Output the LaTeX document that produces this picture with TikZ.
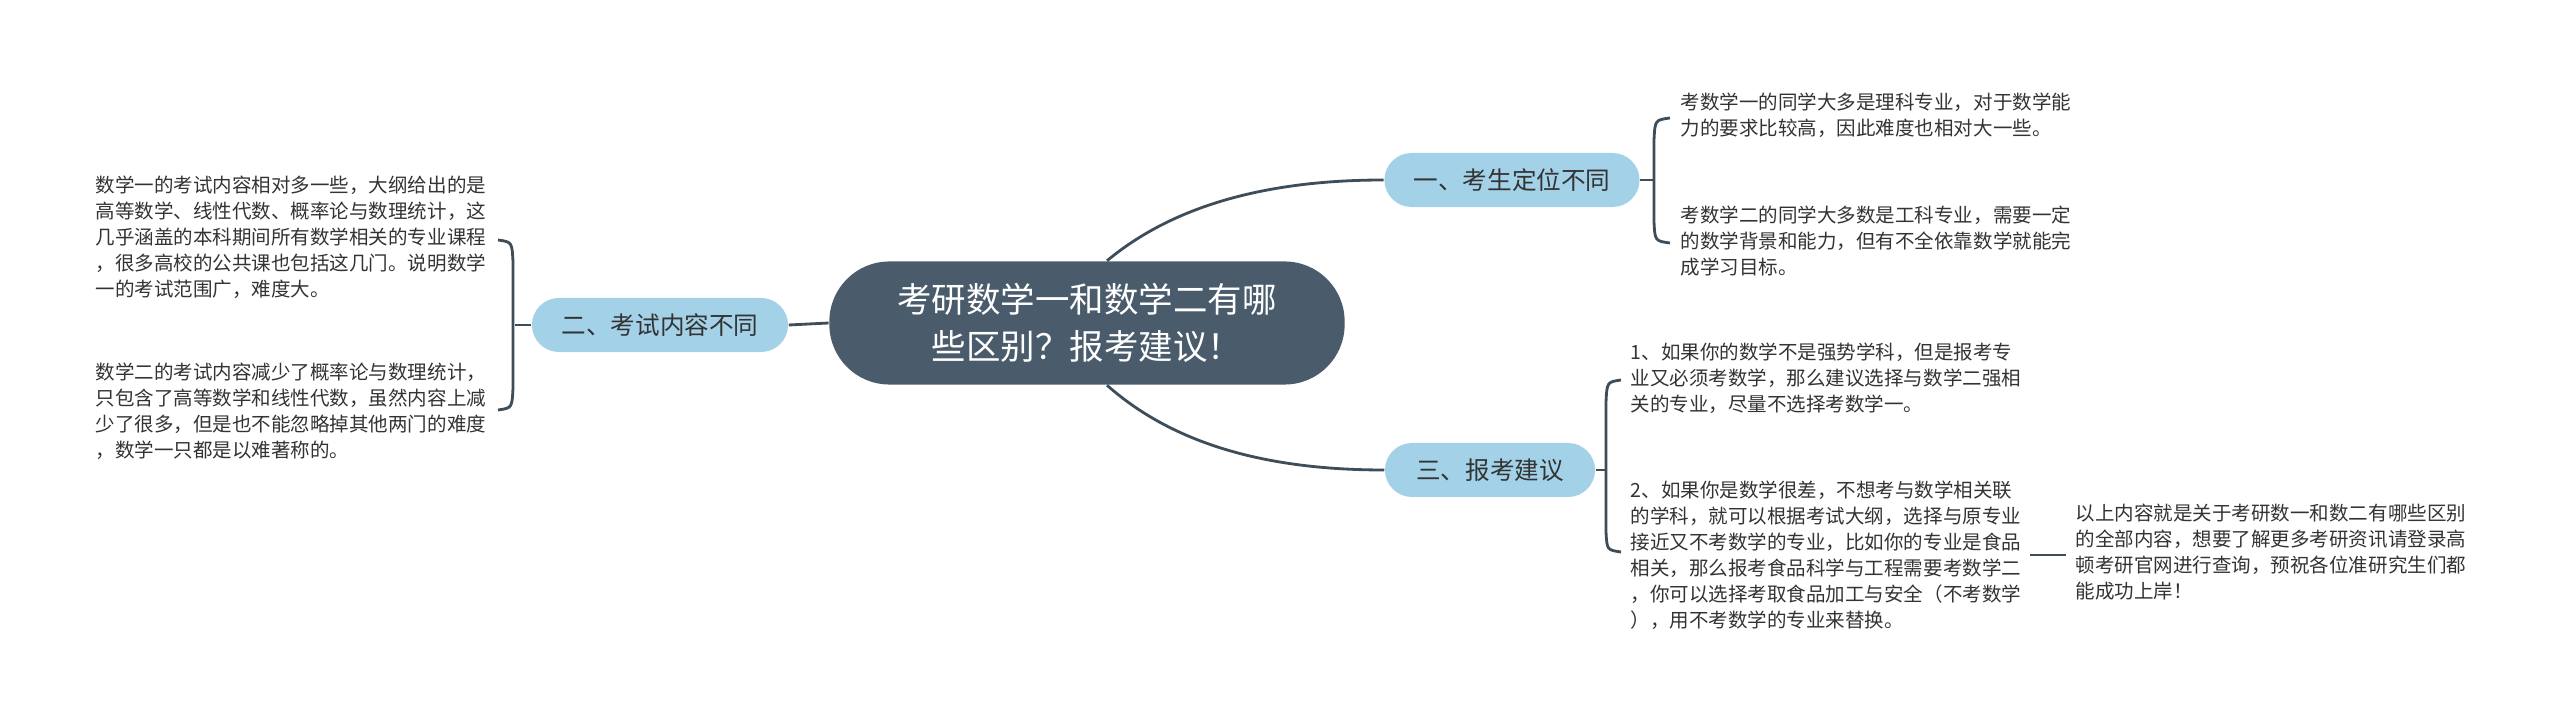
\documentclass[tikz,border=0pt]{standalone}
\usepackage{fontspec}
\setmainfont{Noto Sans CJK SC}
\definecolor{rootfill}{HTML}{4A5C6B}
\definecolor{topicfill}{HTML}{A3D2E8}
\definecolor{linecol}{HTML}{3E4D5A}
\definecolor{txtcol}{HTML}{333333}
\tikzset{
	root/.style={shape=rectangle,rounded corners=0.6cm,fill=rootfill,text=white,minimum width=5.15cm,minimum height=1.23cm,align=center,font=\fontsize{9.8pt}{13.5pt}\selectfont},
	topic/.style={shape=rectangle,rounded corners=0.27cm,fill=topicfill,text=txtcol,minimum height=0.54cm,inner xsep=0.2cm,font=\fontsize{7pt}{8pt}\selectfont},
	leaf/.style={anchor=north west,inner sep=0pt,align=left,text=txtcol,font=\fontsize{5.55pt}{7.4pt}\selectfont},
	link/.style={draw=linecol,line width=0.8pt}
}
\begin{document}
\begin{tikzpicture}[x=0.01cm,y=-0.01cm]
	\useasboundingbox (0,0) rectangle (2560,722);

	\node[root] (r) at (1087, 323) {考研数学一和数学二有哪\\些区别？报考建议！};
	\node[topic,minimum width=2.56cm] (t2) at (660, 325) {二、考试内容不同};
	\node[topic,minimum width=2.55cm] (t1) at (1512, 180) {一、考生定位不同};
	\node[topic,minimum width=2.1cm] (t3) at (1490, 470) {三、报考建议};

	\node[leaf] (a1) at (95, 175) {数学一的考试内容相对多一些，大纲给出的是\\高等数学、线性代数、概率论与数理统计，这\\几乎涵盖的本科期间所有数学相关的专业课程\\，很多高校的公共课也包括这几门。说明数学\\一的考试范围广，难度大。};
	\node[leaf] (a2) at (95, 362) {数学二的考试内容减少了概率论与数理统计，\\只包含了高等数学和线性代数，虽然内容上减\\少了很多，但是也不能忽略掉其他两门的难度\\，数学一只都是以难著称的。};
	\node[leaf] (b1) at (1680, 92) {考数学一的同学大多是理科专业，对于数学能\\力的要求比较高，因此难度也相对大一些。};
	\node[leaf] (b2) at (1680, 205) {考数学二的同学大多数是工科专业，需要一定\\的数学背景和能力，但有不全依靠数学就能完\\成学习目标。};
	\node[leaf] (c1) at (1630, 342) {1、如果你的数学不是强势学科，但是报考专\\业又必须考数学，那么建议选择与数学二强相\\关的专业，尽量不选择考数学一。};
	\node[leaf] (c2) at (1630, 480) {2、如果你是数学很差，不想考与数学相关联\\的学科，就可以根据考试大纲，选择与原专业\\接近又不考数学的专业，比如你的专业是食品\\相关，那么报考食品科学与工程需要考数学二\\，你可以选择考取食品加工与安全（不考数学\\），用不考数学的专业来替换。};
	\node[leaf] (d1) at (2075, 503) {以上内容就是关于考研数一和数二有哪些区别\\的全部内容，想要了解更多考研资讯请登录高\\顿考研官网进行查询，预祝各位准研究生们都\\能成功上岸！};

	% root to topics
	\draw[link] (t2.east) -- (r.west);
	\draw[link] (r.north) ++(20,0) .. controls (1180, 200) and (1280, 180) .. (t1.west);
	\draw[link] (r.south) ++(20,0) .. controls (1180, 450) and (1280, 470) .. (t3.west);

	% brackets
	\coordinate (k2) at (515, 325);
	\draw[link] (t2.west) -- (k2);
	\draw[link] (498, 240) .. controls (512, 242) .. (513, 262) -- (513, 388) .. controls (512, 408) .. (498, 410);
	\coordinate (k1) at (1653, 180);
	\draw[link] (t1.east) -- (k1);
	\draw[link] (1670, 118) .. controls (1655, 120) .. (1654, 140) -- (1654, 222) .. controls (1655, 241) .. (1670, 243);
	\coordinate (k3) at (1606, 470);
	\draw[link] (t3.east) -- (k3);
	\draw[link] (1621, 380) .. controls (1607, 382) .. (1606, 402) -- (1606, 532) .. controls (1607, 550) .. (1621, 552);
	\coordinate (k4) at (2030, 555);
	\coordinate (k5) at (2066, 555);
	\draw[link] (k4) -- (k5);
\end{tikzpicture}
\end{document}
